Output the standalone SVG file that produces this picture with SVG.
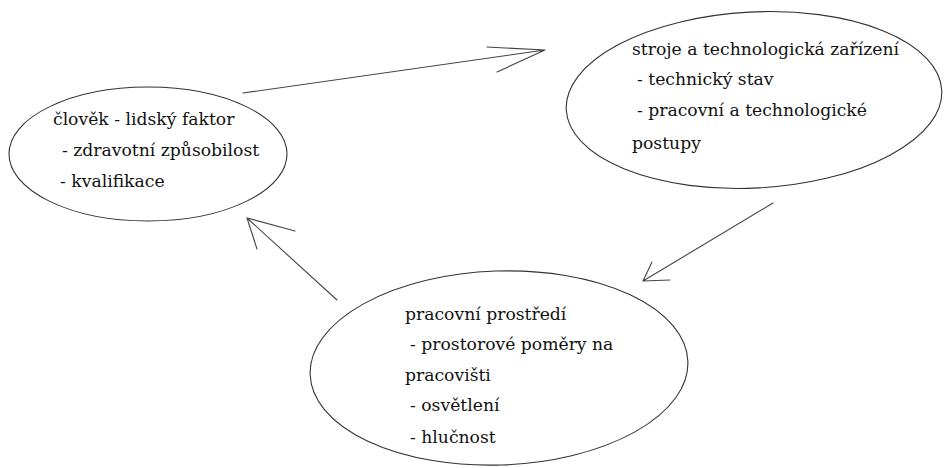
<svg xmlns="http://www.w3.org/2000/svg" width="944" height="468" viewBox="0 0 944 468">
<style>
.node{fill:none;stroke:#333;stroke-width:1.1}
.t{font-family:'DejaVu Serif','Liberation Serif',serif;font-size:17.2px;fill:#111}
.c{fill:none;stroke:#444;stroke-width:1.1;stroke-linecap:round}
</style>
<rect width="944" height="468" fill="#fff"/>
<g id="clovek">
<ellipse class="node" cx="148" cy="154" rx="139" ry="67"/>
<text class="t" x="53" y="125">člověk - lidský faktor</text>
<text class="t" x="62" y="156">- zdravotní způsobilost</text>
<text class="t" x="60" y="187">- kvalifikace</text>
</g>
<g id="stroje">
<ellipse class="node" cx="754" cy="100" rx="188" ry="88" transform="rotate(-3 754 100)"/>
<text class="t" x="632" y="55">stroje a technologická zařízení</text>
<text class="t" x="637" y="85">- technický stav</text>
<text class="t" x="637" y="116">- pracovní a technologické</text>
<text class="t" x="632" y="149">postupy</text>
</g>
<g id="prostredi">
<ellipse class="node" cx="499" cy="368" rx="189" ry="97" transform="rotate(-2 499 368)"/>
<text class="t" x="405" y="320">pracovní prostředí</text>
<text class="t" x="410" y="350">- prostorové poměry na</text>
<text class="t" x="405" y="381">pracovišti</text>
<text class="t" x="410" y="411">- osvětlení</text>
<text class="t" x="410" y="443">- hlučnost</text>
</g>
<g id="connectors">
<path class="c" d="M243 93 L545 50 M487 47 L545 50 L497 72"/>
<path class="c" d="M773 203 L643 281 M652 262 L643 281 L670 280"/>
<path class="c" d="M337 300 L247 218 M295 231 L247 218 L257 249"/>
</g>
</svg>
